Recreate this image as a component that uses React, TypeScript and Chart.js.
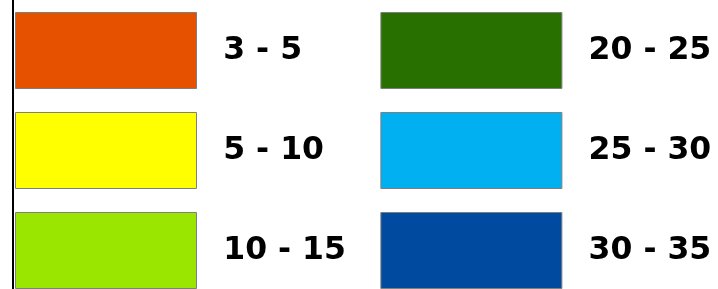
import React, { useEffect, useRef } from 'react';
import { Chart, registerables } from 'chart.js';

Chart.register(...registerables);

// Class bounds shown in the legend
const lowerBounds = [3, 5, 10, 20, 25, 30];
const upperBounds = [5, 10, 15, 25, 30, 35];
const classColors = ['#E65100', '#FFFF00', '#9BE600', '#287000', '#00B0F0', '#004AA0'];
const classLabels = lowerBounds.map((lo, i) => `${lo} - ${upperBounds[i]}`);

const WIDTH = 718;
const HEIGHT = 289;
const COLUMNS = 2;

export default function App() {
  const canvasRef = useRef<HTMLCanvasElement | null>(null);

  useEffect(() => {
    const canvas = canvasRef.current;
    if (!canvas) return;
    const rows = Math.ceil(classLabels.length / COLUMNS);
    const orderKey = (i: number) => (i % rows) * COLUMNS + Math.floor(i / rows);

    const chart = new Chart(canvas, {
      type: 'bar',
      data: {
        labels: [],
        datasets: classLabels.map((label, i) => ({
          label,
          data: [],
          backgroundColor: classColors[i],
          borderColor: '#7f7f7f',
          borderWidth: 1,
        })),
      },
      options: {
        animation: false,
        responsive: false,
        devicePixelRatio: 1,
        layout: { padding: { left: -8.5, top: -11.5, right: -40, bottom: 0 } },
        scales: {
          x: { display: false },
          y: {
            display: true,
            position: 'left',
            fullSize: true,
            grid: { display: false, drawTicks: false },
            ticks: { display: false },
            border: { display: true, color: '#000000', width: 2 },
            afterFit: (scale: any) => {
              scale.width = 21.5;
            },
          } as any,
        },
        plugins: {
          tooltip: { enabled: false },
          legend: {
            display: true,
            position: 'top',
            align: 'start',
            fullSize: true,
            maxHeight: 400,
            labels: {
              boxWidth: 181,
              boxHeight: 76,
              padding: 24,
              color: '#000000',
              font: { family: "'DejaVu Sans', sans-serif", weight: 'bold', size: 31.5 },
              generateLabels: (c: any) => {
                const items = Chart.defaults.plugins.legend.labels.generateLabels(c);
                const maxLen = Math.max(...items.map((it: any) => String(it.text).length));
                return items.map((it: any) => ({
                  ...it,
                  text: ' ' + it.text + ' '.repeat(2 * (maxLen - String(it.text).length) + 1),
                }));
              },
              sort: (a: any, b: any) => orderKey(a.datasetIndex) - orderKey(b.datasetIndex),
            },
          },
        },
      } as any,
    });
    return () => chart.destroy();
  }, []);

  return (
    <div style={{ position: 'fixed', left: 0, top: 0, width: WIDTH, height: HEIGHT, background: '#ffffff' }}>
      <canvas ref={canvasRef} width={WIDTH} height={HEIGHT} style={{ display: 'block' }} />
    </div>
  );
}
